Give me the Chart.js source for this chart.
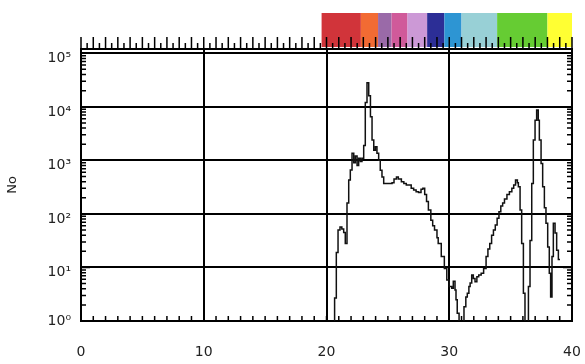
<!DOCTYPE html>
<html>
<head>
<meta charset="utf-8">
<script src="https://cdn.jsdelivr.net/npm/chart.js@4"></script>
<style>
  body { margin: 0; background: #fff; }
  canvas { display: block; }
</style>
</head>
<body>
<canvas id="mainChart" width="585" height="364"></canvas>
<script>
// time axis values and the matching No counts (step curve)
const times = [
    20.55, 20.66, 20.80, 20.94, 21.10, 21.25, 21.40, 21.53, 21.67, 21.81,
    21.94, 22.08, 22.22, 22.35, 22.49, 22.62, 22.76, 22.89, 23.03, 23.16,
    23.30, 23.44, 23.58, 23.71, 23.85, 23.98, 24.11, 24.25, 24.38, 24.52,
    24.66, 25.34, 25.50, 25.70, 25.85, 26.10, 26.30, 26.50, 26.90, 27.10,
    27.30, 27.50, 27.70, 27.85, 28.00, 28.15, 28.30, 28.50, 28.65, 28.80,
    29.00, 29.10, 29.35, 29.60, 29.80, 30.00, 30.20, 30.33, 30.47, 30.55,
    30.65, 30.80, 31.20, 31.35, 31.47, 31.60, 31.70, 31.83, 31.96, 32.10,
    32.25, 32.40, 32.60, 32.80, 33.00, 33.15, 33.30, 33.45, 33.60, 33.75,
    33.90, 34.05, 34.20, 34.35, 34.50, 34.70, 34.90, 35.10, 35.25, 35.40,
    35.55, 35.63, 35.77, 35.90, 36.04, 36.17, 36.45, 36.58, 36.72, 36.85,
    36.99, 37.12, 37.25, 37.34, 37.48, 37.61, 37.75, 37.88, 38.02, 38.15,
    38.26, 38.37, 38.48, 38.62, 38.75, 38.89, 39.02
];
const noValues = [
    0.5, 2.7, 19, 50, 57, 52, 45, 28, 160, 430,
    660, 1350, 900, 1200, 800, 1100, 950, 1100, 1900, 12000,
    28000, 16000, 6500, 2400, 1550, 1800, 1350, 1000, 650, 490,
    370, 380, 450, 490, 450, 400, 370, 345, 300, 280,
    260, 250, 290, 300, 230, 170, 118, 76, 60, 50,
    36, 28, 16, 9.6, 5.8, 4.4, 4.1, 5.5, 3.8, 2.5,
    1.4, 0.5, 1.85, 2.8, 3.3, 4.4, 5.1, 7.2, 6.2, 5.4,
    6.7, 7.2, 7.8, 9.6, 16, 22, 28, 40, 50, 62,
    83, 110, 140, 160, 190, 230, 260, 300, 345, 430,
    380, 320, 118, 28, 3.3, 0.5, 4.4, 32, 370, 2400,
    5600, 8700, 5600, 2400, 870, 320, 130, 67, 24, 7.8,
    2.8, 16, 67, 44, 21, 14, 14
];

const yTickValues = [1, 10, 100, 1000, 10000, 100000];
const xTickValues = [0, 10, 20, 30, 40];

// colour strip along the top: interval edges (time) and their colours
const bandEdges = [19.6, 22.8, 24.2, 25.3, 26.6, 28.2, 29.6, 31.0, 33.9, 38.0, 40];
const bandColors = ['#d1343a', '#f26b33', '#9a6aa8', '#d05a9a', '#cc99d6',
                    '#2c2e96', '#2d95d3', '#98d0d6', '#66cc33', '#ffff33'];

const supers = { '0': '\u2070', '1': '\u00b9', '2': '\u00b2', '3': '\u00b3', '4': '\u2074', '5': '\u2075' };

const idlAxes = {
    id: 'idlAxes',
    afterDraw(chart) {
        const { ctx, chartArea: a } = chart;
        const x = chart.scales.x, y = chart.scales.y;
        ctx.save();

        // colour strip
        bandColors.forEach((c, i) => {
            const x0 = x.getPixelForValue(bandEdges[i]);
            const x1 = x.getPixelForValue(bandEdges[i + 1]);
            ctx.fillStyle = c;
            ctx.fillRect(x0, 13, x1 - x0, a.top - 15);
        });

        ctx.strokeStyle = '#000';
        ctx.lineWidth = 1.5;
        ctx.beginPath();
        // top (outward, every half unit) and bottom (inward, every unit)
        for (let v = x.min; v <= x.max; v += 0.5) {
            const px = x.getPixelForValue(v);
            const whole = v % 1 === 0;
            ctx.moveTo(px, a.top);
            ctx.lineTo(px, a.top - (whole ? 12 : 6));
            if (whole) {
                ctx.moveTo(px, a.bottom);
                ctx.lineTo(px, a.bottom - 5);
            }
        }
        // log ticks on both sides, inward
        for (let d = 0; d <= 5; d++) {
            for (let m = 1; m < 10; m++) {
                const v = Math.pow(10, d) * m;
                if (v > y.max) break;
                const py = y.getPixelForValue(v);
                const len = m === 1 ? 9 : 5;
                ctx.moveTo(a.left, py);
                ctx.lineTo(a.left + len, py);
                ctx.moveTo(a.right, py);
                ctx.lineTo(a.right - len, py);
            }
        }
        ctx.stroke();
        ctx.restore();
    }
};

const tickFont = { family: 'DejaVu Sans', size: 14 };
const border = { display: true, color: '#000', width: 2 };

new Chart(document.getElementById('mainChart').getContext('2d'), {
    type: 'line',
    data: {
        datasets: [{
            label: 'No',
            data: times.map((t, i) => ({ x: t, y: noValues[i] })),
            borderColor: '#111',
            borderWidth: 1.5,
            pointRadius: 0,
            stepped: true,
            fill: false
        }]
    },
    options: {
        responsive: false,
        animation: false,
        events: [],
        layout: { padding: 0 },
        plugins: {
            legend: { display: false },
            tooltip: { enabled: false }
        },
        scales: {
            x: {
                type: 'linear',
                position: 'bottom',
                min: 0,
                max: 40,
                afterBuildTicks: s => { s.ticks = xTickValues.map(v => ({ value: v })); },
                afterFit: s => { s.height = 43; },
                ticks: { color: '#222', font: tickFont, padding: 2, maxRotation: 0 },
                grid: { color: '#000', lineWidth: 2, drawTicks: true, tickLength: 21, tickColor: 'rgba(0,0,0,0)' },
                border: border
            },
            xTop: {
                type: 'linear',
                position: 'top',
                min: 0,
                max: 40,
                afterFit: s => { s.height = 49; },
                ticks: { display: false },
                grid: { display: false, drawOnChartArea: false },
                border: border
            },
            y: {
                type: 'logarithmic',
                position: 'left',
                min: 1,
                max: 120000,
                afterBuildTicks: s => { s.ticks = yTickValues.map(v => ({ value: v })); },
                afterFit: s => { s.width = 81; },
                ticks: {
                    color: '#222',
                    font: { family: 'DejaVu Sans', size: 14, lineHeight: 0.75 },
                    padding: 10,
                    callback: v => {
                        const lbl = '10' + supers[String(Math.round(Math.log10(v)))];
                        return v === 1 ? lbl : ['', lbl];
                    }
                },
                grid: { color: '#000', lineWidth: 2, drawTicks: false },
                border: border,
                title: {
                    display: true,
                    text: 'No',
                    color: '#222',
                    font: { family: 'DejaVu Sans', size: 13 },
                    padding: { top: 5, bottom: 0 }
                }
            },
            yRight: {
                type: 'logarithmic',
                position: 'right',
                min: 1,
                max: 120000,
                afterFit: s => { s.width = 13; },
                ticks: { display: false },
                grid: { display: false, drawOnChartArea: false },
                border: border
            }
        }
    },
    plugins: [idlAxes]
});
</script>
</body>
</html>
